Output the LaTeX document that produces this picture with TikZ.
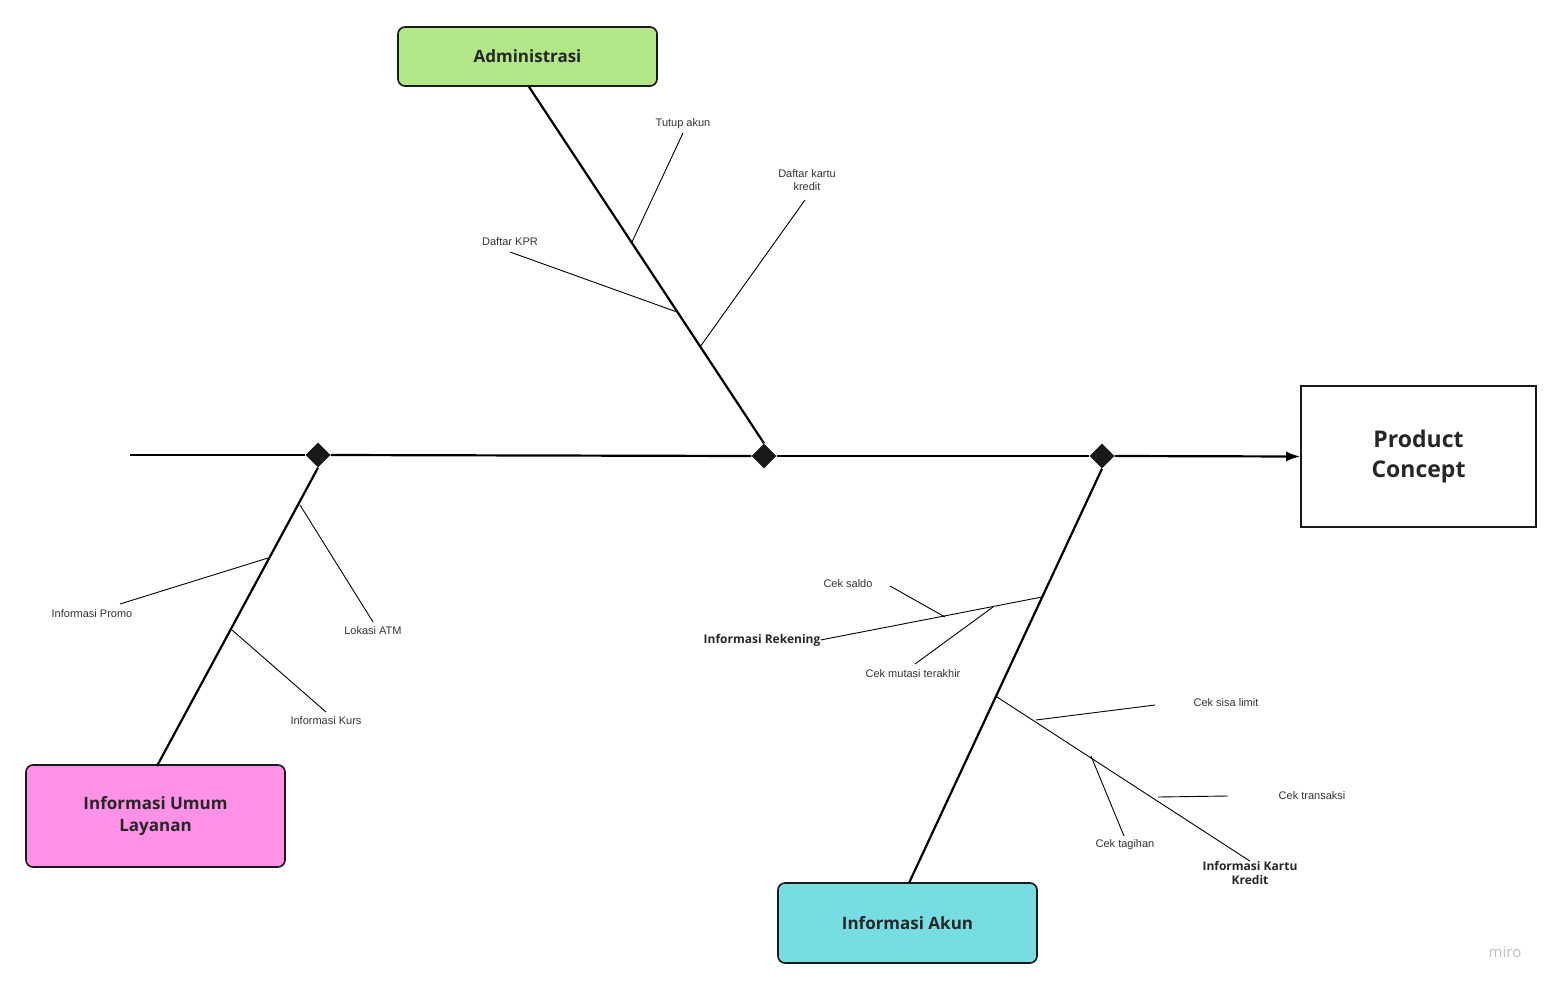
\documentclass[tikz,border=0pt]{standalone}
\usepackage{fontspec}
\setmainfont{Open Sans}
\newfontfamily\lab{Liberation Sans}
\usetikzlibrary{arrows.meta,shapes.geometric}
\begin{document}
\begin{tikzpicture}[x=1pt,y=-1pt,
  main/.style={line width=2.2pt},
  br/.style={line width=0.9pt},
  lbl/.style={font=\lab\fontsize{11}{13}\selectfont,text=black!80,align=center,inner sep=0pt},
  blbl/.style={font=\fontsize{12}{14}\selectfont\bfseries,text=black!85,align=center,inner sep=0pt},
  cat/.style={draw=black!90,line width=1.6pt,rounded corners=7pt,font=\fontsize{17}{22}\selectfont\bfseries,text=black!85,align=center},
  dia/.style={diamond,fill=black!90,minimum size=25pt,inner sep=0pt}]
\useasboundingbox (0,0) rectangle (1567,996);
% categories
\node[cat,fill={rgb,255:red,179;green,230;blue,134},minimum width=259pt,minimum height=59pt] (adm) at (527.5,56.5) {Administrasi};
\node[cat,fill={rgb,255:red,255;green,145;blue,230},minimum width=259pt,minimum height=102pt] (ium) at (155.5,816) {Informasi Umum\\Layanan};
\node[cat,fill={rgb,255:red,120;green,221;blue,227},minimum width=259pt,minimum height=80pt] (iak) at (907.5,923) {Informasi Akun};
\node[draw=black!90,line width=1.6pt,minimum width=235pt,minimum height=141pt,font=\fontsize{23}{30}\selectfont\bfseries,text=black!85,align=center] (pc) at (1418.5,456.5) {Product\\Concept};
% spine
\coordinate (s0) at (130,455);
\node[dia] (d1) at (318,455) {};
\node[dia] (d2) at (764,456) {};
\node[dia] (d3) at (1102,456) {};
\draw[main] (s0) -- (d1.west);
\draw[main] (d1.east) -- (d2.west);
\draw[main] (d2.east) -- (d3.west);
\draw[main,-{Latex[length=14pt,width=10pt]}] (d3.east) -- (pc.west);
% bones
\draw[main] (adm.south) ++(1.5,0) coordinate (a0) -- (d2.north);
\draw[main] (d1.south) -- (157,766);
\draw[main] (d3.south) -- (909,883);
% Administrasi branches
\node[lbl] (t1) at (683,124) {Tutup akun};
\node[lbl] (t2) at (807,180) {Daftar kartu\\kredit};
\node[lbl] (t3) at (510,242) {Daftar KPR};
\coordinate (p1) at (632,242);
\coordinate (p2) at (700,347);
\coordinate (p3) at (677,312);
\draw[br] (683,133) -- (p1);
\draw[br] (805,200) -- (p2);
\draw[br] (510,252) -- (p3);
% Informasi Umum branches
\node[lbl] (u1) at (92,614) {Informasi Promo};
\node[lbl] (u2) at (373,631) {Lokasi ATM};
\node[lbl] (u3) at (326,721) {Informasi Kurs};
\draw[br] (120,604) -- (268,558);
\draw[br] (373,622) -- (300,505);
\draw[br] (326,712) -- (232,630);
% Informasi Akun branches
\node[blbl] (r0) at (762,640) {Informasi Rekening};
\node[lbl] (r1) at (848,584) {Cek saldo};
\node[lbl] (r2) at (913,674) {Cek mutasi terakhir};
\coordinate (rA) at (1042,597);
\draw[br] (r0.east) -- (rA);
\draw[br] (890,586) -- (945,617);
\draw[br] (915,664) -- (993,607);
\node[blbl] (k0) at (1250,873) {Informasi Kartu\\Kredit};
\node[lbl] (k1) at (1226,703) {Cek sisa limit};
\node[lbl] (k2) at (1312,796) {Cek transaksi};
\node[lbl] (k3) at (1125,845) {Cek tagihan};
\draw[br] (997,697) -- (k0.north);
\draw[br] (1036,720) -- (1155,705);
\draw[br] (1158,797) -- (1228,796);
\draw[br] (1124,836) -- (1091,756);
\node[font=\fontsize{15}{18}\selectfont,text=black!25] (miro) at (1505,952) {miro};
\end{tikzpicture}
\end{document}
